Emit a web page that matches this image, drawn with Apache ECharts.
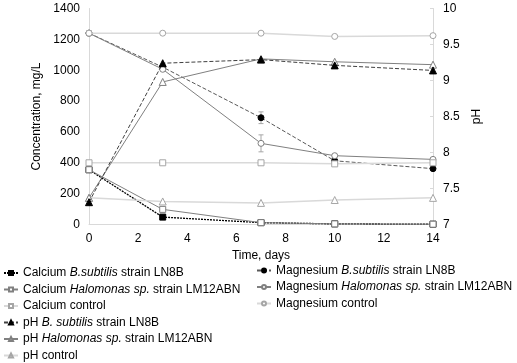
<!DOCTYPE html>
<html><head><meta charset="utf-8">
<script src="https://cdn.jsdelivr.net/npm/echarts@6/dist/echarts.min.js"></script>
<style>html,body{margin:0;padding:0;background:#fff}#c{width:517px;height:363px}</style>
</head><body><div id="c"></div>
<script>
var days = [0, 3, 7, 10, 14];
var caBsub = [355, 48, 12, 4, 2];
var caHal = [355, 98, 12, 4, 2];
var caCtrl = [400, 400, 400, 393, 400];
var mgBsub = [1240, 1020, 692, 413, 362];
var mgHal = [1240, 1006, 526, 446, 422];
var mgCtrl = [1240, 1240, 1240, 1219, 1224];
var phBsub = [7.31, 9.24, 9.29, 9.21, 9.14];
var phHal = [7.37, 8.98, 9.30, 9.26, 9.22];
var phCtrl = [7.37, 7.32, 7.30, 7.34, 7.37];
var mgBsubErr = [0, 0, 38, 0, 0];
var mgHalErr = [0, 0, 55, 0, 0];
var xTicks = [0, 2, 4, 6, 8, 10, 12, 14];
var leftTicks = [0, 200, 400, 600, 800, 1000, 1200, 1400];
var rightTicks = [7, 7.5, 8, 8.5, 9, 9.5, 10];

var names = {
  caB: 'Calcium B.subtilis strain LN8B',
  caH: 'Calcium Halomonas sp. strain LM12ABN',
  caC: 'Calcium control',
  mgB: 'Magnesium B.subtilis strain LN8B',
  mgH: 'Magnesium Halomonas sp. strain LM12ABN',
  mgC: 'Magnesium control',
  phB: 'pH B. subtilis strain LN8B',
  phH: 'pH Halomonas sp. strain LM12ABN',
  phC: 'pH control'
};
var richNames = {};
richNames[names.caB] = '{n|Calcium }{i|B.subtilis}{n| strain LN8B}';
richNames[names.caH] = '{n|Calcium }{i|Halomonas sp.}{n| strain LM12ABN}';
richNames[names.caC] = '{n|Calcium control}';
richNames[names.mgB] = '{n|Magnesium }{i|B.subtilis}{n| strain LN8B}';
richNames[names.mgH] = '{n|Magnesium }{i|Halomonas sp.}{n| strain LM12ABN}';
richNames[names.mgC] = '{n|Magnesium control}';
richNames[names.phB] = '{n|pH }{i|B. subtilis}{n| strain LN8B}';
richNames[names.phH] = '{n|pH }{i|Halomonas sp.}{n| strain LM12ABN}';
richNames[names.phC] = '{n|pH control}';

function pairs(vals){ return days.map(function(d,i){ return [d, vals[i]]; }); }

var FONT = 'Liberation Sans';
function mk(name, vals, yIdx, symbol, filled, lineColor, markColor, lineType, lineWidth, z){
  return {
    name: name, type: 'line', yAxisIndex: yIdx, data: pairs(vals),
    symbol: symbol, symbolSize: symbol === 'triangle' ? 7 : 6,
    lineStyle: { color: lineColor, type: lineType, width: lineWidth },
    itemStyle: { color: filled ? markColor : '#ffffff', borderColor: markColor, borderWidth: 1 },
    emphasis: { disabled: true }, animation: false, z: z
  };
}
function errSeries(vals, errs){
  return {
    type: 'custom', yAxisIndex: 0, silent: true, animation: false, z: 2,
    data: days.map(function(d,i){ return [d, vals[i] - errs[i], vals[i] + errs[i], errs[i]]; }),
    renderItem: function(params, api){
      if (api.value(3) === 0) return null;
      var lo = api.coord([api.value(0), api.value(1)]);
      var hi = api.coord([api.value(0), api.value(2)]);
      var st = { stroke: '#a6a6a6', lineWidth: 1 };
      return { type: 'group', children: [
        { type: 'line', shape: { x1: lo[0], y1: lo[1], x2: hi[0], y2: hi[1] }, style: st },
        { type: 'line', shape: { x1: lo[0]-2.5, y1: lo[1], x2: lo[0]+2.5, y2: lo[1] }, style: st },
        { type: 'line', shape: { x1: hi[0]-2.5, y1: hi[1], x2: hi[0]+2.5, y2: hi[1] }, style: st }
      ]};
    }
  };
}

var legendText = {
  fontSize: 12, fontFamily: FONT, color: '#000', lineHeight: 14,
  rich: {
    n: { fontSize: 12, fontFamily: FONT, color: '#000', lineHeight: 14 },
    i: { fontSize: 12, fontFamily: FONT, color: '#000', fontStyle: 'italic', lineHeight: 14 }
  }
};
function lg(left, top, gap, data){
  return {
    orient: 'vertical', left: left, top: top, itemWidth: 14, itemHeight: 5, itemGap: gap,
    padding: 0, selectedMode: false, data: data, textStyle: legendText,
    formatter: function(n){ return richNames[n]; }
  };
}

var axisLineStyle = { lineStyle: { color: '#d9d9d9', width: 1 } };
var labelStyle = { fontSize: 12, fontFamily: FONT, color: '#000' };

var option = {
  backgroundColor: '#fff',
  animation: false,
  grid: { left: 89, right: 84, top: 8.5, bottom: 138.5, containLabel: false },
  legend: [
    lg(3, 266, 2.5, [names.caB, names.caH, names.caC]),
    lg(3, 315.5, 2.5, [names.phB, names.phH, names.phC]),
    lg(256, 263.5, 2.5, [names.mgB, names.mgH, names.mgC])
  ],
  xAxis: {
    type: 'value', min: 0, max: 14, interval: 2,
    name: 'Time, days', nameLocation: 'middle', nameGap: 24,
    nameTextStyle: { fontSize: 12, fontFamily: FONT, color: '#000' },
    axisLine: axisLineStyle, axisTick: { show: false },
    axisLabel: Object.assign({ margin: 8, formatter: function(v){ return xTicks.indexOf(v) >= 0 ? String(v) : ''; } }, labelStyle),
    splitLine: { show: false }
  },
  yAxis: [
    {
      type: 'value', min: 0, max: 1400, interval: 200, position: 'left',
      name: 'Concentration, mg/L', nameLocation: 'middle', nameGap: 36, nameRotate: 90,
      nameTextStyle: { fontSize: 12, fontFamily: FONT, color: '#000' },
      axisLine: Object.assign({ show: true }, axisLineStyle), axisTick: { show: false },
      axisLabel: Object.assign({ margin: 9, formatter: function(v){ return leftTicks.indexOf(v) >= 0 ? String(v) : ''; } }, labelStyle),
      splitLine: { show: false }
    },
    {
      type: 'value', min: 7, max: 10, interval: 0.5, position: 'right',
      name: 'pH', nameLocation: 'middle', nameGap: 28, nameRotate: 90,
      nameTextStyle: { fontSize: 12, fontFamily: FONT, color: '#000' },
      axisLine: Object.assign({ show: true }, axisLineStyle),
      axisTick: { show: true, inside: true, length: 3, lineStyle: { color: '#d9d9d9' } },
      axisLabel: Object.assign({ margin: 10, formatter: function(v){ return rightTicks.indexOf(v) >= 0 ? String(v) : ''; } }, labelStyle),
      splitLine: { show: false }
    }
  ],
  series: [
    errSeries(mgBsub, mgBsubErr),
    errSeries(mgHal, mgHalErr),
    mk(names.caB, caBsub, 0, 'rect', true, '#000000', '#000000', [2, 1], 1.3, 3),
    mk(names.caH, caHal, 0, 'rect', false, '#808080', '#808080', 'solid', 1, 4),
    mk(names.caC, caCtrl, 0, 'rect', false, '#d9d9d9', '#a6a6a6', 'solid', 1.5, 5),
    mk(names.mgB, mgBsub, 0, 'circle', true, '#595959', '#000000', [4, 2], 1, 3),
    mk(names.mgH, mgHal, 0, 'circle', false, '#808080', '#808080', 'solid', 1, 4),
    mk(names.mgC, mgCtrl, 0, 'circle', false, '#d9d9d9', '#a6a6a6', 'solid', 1.5, 5),
    mk(names.phC, phCtrl, 1, 'triangle', false, '#d9d9d9', '#a6a6a6', 'solid', 1.5, 5),
    mk(names.phH, phHal, 1, 'triangle', false, '#808080', '#808080', 'solid', 1, 6),
    mk(names.phB, phBsub, 1, 'triangle', true, '#404040', '#000000', [4, 2], 1, 7)
  ]
};
var chart = echarts.init(document.getElementById('c'), null, { renderer: 'canvas' });
chart.setOption(option);
</script>
</body></html>
